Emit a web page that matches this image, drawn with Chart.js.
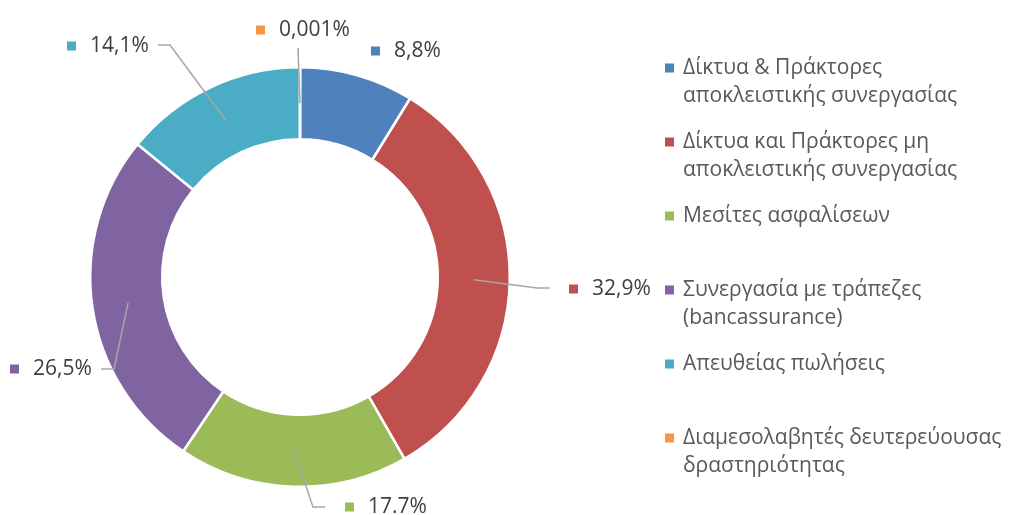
<!DOCTYPE html>
<html>
<head>
<meta charset="utf-8">
<script src="https://cdn.jsdelivr.net/npm/chart.js@4.4.0/dist/chart.umd.min.js"></script>
<style>
  html, body { margin: 0; padding: 0; background: #fff; }
</style>
</head>
<body>
<canvas id="shareChart" width="1011" height="515"></canvas>
<script>
// chart data
const categories = [
  ["Δίκτυα & Πράκτορες", "αποκλειστικής συνεργασίας"],
  ["Δίκτυα και Πράκτορες μη", "αποκλειστικής συνεργασίας"],
  ["Μεσίτες ασφαλίσεων"],
  ["Συνεργασία με τράπεζες", "(bancassurance)"],
  ["Απευθείας πωλήσεις"],
  ["Διαμεσολαβητές δευτερεύουσας", "δραστηριότητας"]
];
const shares = [8.8, 32.9, 17.7, 26.5, 14.1, 0.001];
const shareLabels = ["8,8%", "32,9%", "17.7%", "26,5%", "14,1%", "0,001%"];
const colors = ["#4F81BD", "#C0504D", "#9BBB59", "#8064A2", "#4BACC6", "#F79646"];

const FONT = "21px 'Open Sans'";

// where each data label sits, relative to the doughnut centre
// sq = left/middle of the little square, end/elbow = leader line points
const labelLayout = [
  { sq: [71, -226] },
  { sq: [269, 12], end: [250, 11], elbow: [237, 11] },
  { sq: [45, 230], end: [25, 230], elbow: [13, 230] },
  { sq: [-290, 92], end: [-199, 92], elbow: [-186, 92] },
  { sq: [-233, -231], end: [-142, -232], elbow: [-130, -232] },
  { sq: [-44, -247], end: [-2, -229] }
];

const labelPlugin = {
  id: "labelPlugin",
  afterDatasetsDraw(chart) {
    const ctx = chart.ctx;
    const meta = chart.getDatasetMeta(0);
    ctx.save();
    meta.data.forEach((arc, i) => {
      const p = arc.getProps(["x", "y", "startAngle", "endAngle", "innerRadius", "outerRadius"], true);
      const lay = labelLayout[i];
      const cx = p.x, cy = p.y;
      if (lay.end) {
        const mid = (p.startAngle + p.endAngle) / 2;
        const r = (p.innerRadius + p.outerRadius) / 2;
        const ax = cx + Math.cos(mid) * r;
        const ay = cy + Math.sin(mid) * r;
        ctx.strokeStyle = "#A6A6A6";
        ctx.lineWidth = 1.5;
        ctx.beginPath();
        ctx.moveTo(ax, ay);
        if (lay.elbow) ctx.lineTo(cx + lay.elbow[0], cy + lay.elbow[1]);
        ctx.lineTo(cx + lay.end[0], cy + lay.end[1]);
        ctx.stroke();
      }
      const sx = cx + lay.sq[0], sy = cy + lay.sq[1];
      ctx.fillStyle = colors[i];
      ctx.fillRect(sx, sy - 4.5, 9, 9);
      ctx.fillStyle = "#404040";
      ctx.font = FONT;
      ctx.textBaseline = "middle";
      ctx.textAlign = "left";
      ctx.fillText(shareLabels[i], sx + 23, sy);
    });
    ctx.restore();
  }
};

// legend on the right, drawn by hand because the names wrap over two lines
const legendPlugin = {
  id: "legendPlugin",
  afterDraw(chart) {
    const ctx = chart.ctx;
    const x = 665, top = 68, step = 74, lineH = 28.5;
    ctx.save();
    ctx.font = FONT;
    ctx.textBaseline = "middle";
    categories.forEach((lines, i) => {
      const y = top + i * step;
      ctx.fillStyle = colors[i];
      ctx.fillRect(x, y - 4.5, 9, 9);
      ctx.fillStyle = "#595959";
      lines.forEach((t, j) => ctx.fillText(t, x + 18, y + j * lineH));
    });
    ctx.restore();
  }
};

new Chart(document.getElementById("shareChart"), {
  type: "doughnut",
  data: {
    labels: categories,
    datasets: [{
      data: shares,
      backgroundColor: colors,
      borderColor: "#ffffff",
      borderWidth: 2.5
    }]
  },
  options: {
    responsive: false,
    animation: false,
    cutout: "65.7%",
    layout: { padding: { left: 89, right: 500, top: 66, bottom: 27 } },
    plugins: {
      legend: { display: false },
      tooltip: { enabled: false }
    }
  },
  plugins: [labelPlugin, legendPlugin]
});
</script>
</body>
</html>
